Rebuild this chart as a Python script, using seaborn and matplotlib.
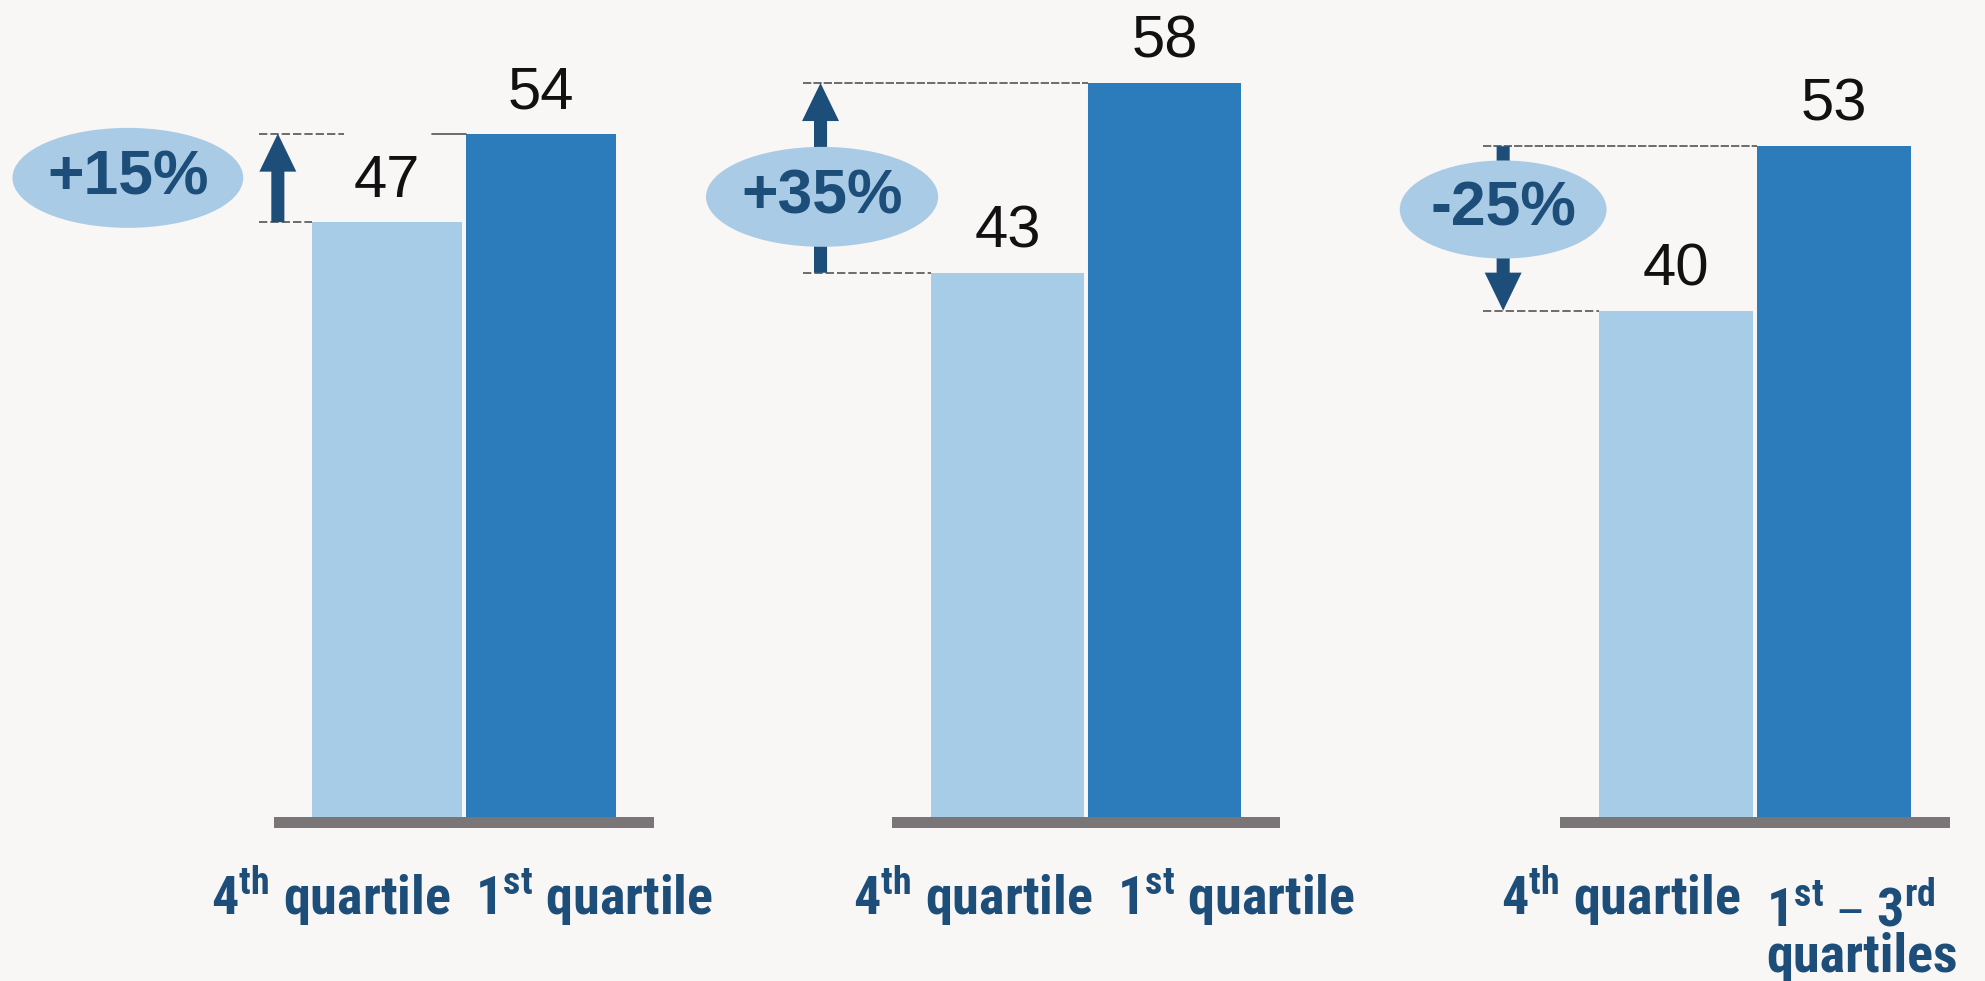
import matplotlib
matplotlib.use("Agg")
import matplotlib.pyplot as plt
import seaborn as sns
import pandas as pd
from matplotlib import font_manager
from matplotlib.font_manager import FontProperties
from matplotlib.patches import Ellipse, FancyArrowPatch, ArrowStyle

# ---- data -------------------------------------------------------------
quartile_4th = [47, 43, 40]
quartile_top = [54, 58, 53]
changes = ["+15%", "+35%", "-25%"]
label_4th = [r"4$^{\mathdefault{th}}$ quartile"] * 3
label_top = [r"1$^{\mathdefault{st}}$ quartile",
             r"1$^{\mathdefault{st}}$ quartile",
             "1$^{\\mathdefault{st}}$ \u2013 3$^{\\mathdefault{rd}}$\nquartiles"]

# ---- style ------------------------------------------------------------
LIGHT = "#a7cce8"
DARK = "#2c7cbc"
BASE_GRAY = "#7a7677"
NAVY = "#1d4e7a"
OVAL = "#a9cbe6"
RULE = "#555555"
BG = "#f9f6f6"

sns.set_theme(style="white")
plt.rcParams["font.family"] = ["Liberation Sans", "DejaVu Sans"]


def _is_bold(entry):
    w = entry.weight
    if isinstance(w, str):
        return w in ("bold", "heavy", "extra bold", "black", "demibold", "semibold")
    return w >= 600


def pick_condensed_bold():
    """Return a bold condensed sans face if one is installed."""
    fonts = font_manager.fontManager.ttflist
    for name in ("Liberation Sans Narrow", "Arial Narrow", "Roboto Condensed",
                 "Open Sans Condensed", "Noto Sans Condensed"):
        for f in fonts:
            if f.name == name and _is_bold(f) and f.style == "normal":
                return f
    for f in fonts:
        if (f.name in ("Liberation Sans", "Roboto", "Open Sans", "Noto Sans",
                       "Lato", "Inter")
                and f.stretch in ("condensed", "semi-condensed", "extra-condensed")
                and _is_bold(f) and f.style == "normal"):
            return f
    return None


cond = pick_condensed_bold()
if cond is not None:
    LABEL_PROP = FontProperties(fname=cond.fname, size=39)
    LABEL_LINESPACING = 0.87
else:
    LABEL_PROP = FontProperties(family="Liberation Sans", weight="bold", size=35)
    LABEL_LINESPACING = 1.32

# ---- layout (pixels) --------------------------------------------------
FIG_W, FIG_H, DPI = 1985, 981, 100
AX_LEFT = [274, 892, 1560]
AX_WIDTH = [380, 388, 390]
AX_BOTTOM = 152.7
AX_HEIGHT = FIG_H - AX_BOTTOM
BASE_DEPTH = 0.917
Y_TOP = 64.56
X_LIM = (-0.735, 1.735)
LABEL_SHIFT = [0.0, 0.13, 0.0]
LABEL_PAD = 62.4
LINE_GAP_PX = 57

# annotation geometry per panel (category units along x, value units along y)
ARROW_X = [-0.71, -1.19, -1.095]
RULE_X0 = [-0.83, -1.30, -1.22]
OVAL_XY = [(-1.685, 50.5), (-1.18, 49.0), (-1.095, 48.0)]
OVAL_WH = [(1.50, 7.9), (1.478, 7.9), (1.31, 7.75)]

fig = plt.figure(figsize=(FIG_W / DPI, FIG_H / DPI), dpi=DPI)
fig.patch.set_facecolor(BG)

arrow_style = ArrowStyle.Simple(head_length=27.4, head_width=26.6, tail_width=9.4)

for i in range(3):
    ax = fig.add_axes([AX_LEFT[i] / FIG_W, AX_BOTTOM / FIG_H,
                       AX_WIDTH[i] / FIG_W, AX_HEIGHT / FIG_H])
    ax.set_facecolor("none")
    df = pd.DataFrame({"group": ["low", "high"],
                       "value": [quartile_4th[i], quartile_top[i]]})
    sns.barplot(data=df, x="group", y="value", hue="group",
                palette=[LIGHT, DARK], width=0.975, saturation=1,
                linewidth=0, edgecolor="none", legend=False, ax=ax, zorder=2)
    ax.set_xlim(*X_LIM)
    ax.set_ylim(-BASE_DEPTH, Y_TOP)
    ax.axhspan(-BASE_DEPTH, 0, color=BASE_GRAY, lw=0, zorder=3)

    for spine in ax.spines.values():
        spine.set_visible(False)
    ax.set_yticks([])
    ax.set_xlabel("")
    ax.set_ylabel("")

    # value labels above the bars
    for cont in ax.containers:
        ax.bar_label(cont, fmt="%d", padding=9.6, fontsize=43,
                     color="#111111")

    # category labels flanking the gap between the two bars
    s = LABEL_SHIFT[i]
    ax.set_xticks([0.5 - 0.09 + s, 0.5 + 0.07 + s],
                  labels=[label_4th[i], label_top[i]])
    ax.tick_params(axis="x", length=0, pad=LABEL_PAD)
    for lbl, ha in zip(ax.get_xticklabels(), ["right", "left"]):
        lbl.set_fontproperties(LABEL_PROP)
        lbl.set_ha(ha)
        lbl.set_va("baseline")
        lbl.set_multialignment("left")
        lbl.set_color(NAVY)
        lbl.set_linespacing(LABEL_LINESPACING)
        # baseline alignment follows the last line; keep the first line level
        n_extra = lbl.get_text().count("\n")
        if n_extra:
            lbl.set_y(-n_extra * LINE_GAP_PX / AX_HEIGHT)

    lo, hi = quartile_4th[i], quartile_top[i]
    left_edge_low = -0.4875
    left_edge_high = 1 - 0.4875

    # reference rules at the two bar heights
    if i == 0:
        ax.plot([RULE_X0[i], -0.28], [hi, hi], ls=(0, (5, 1.8)), lw=1.2,
                color=RULE, clip_on=False, zorder=2)
        ax.plot([0.295, left_edge_high], [hi, hi], lw=1.2, color=RULE,
                clip_on=False, zorder=2)
    else:
        ax.plot([RULE_X0[i], left_edge_high], [hi, hi], ls=(0, (5, 1.2)),
                lw=1.2, color=RULE, clip_on=False, zorder=2)
    ax.plot([RULE_X0[i], left_edge_low], [lo, lo], ls=(0, (5, 1.8)), lw=1.2,
            color=RULE, clip_on=False, zorder=2)

    # change arrow: points from the comparison bar toward the quoted change
    start, end = (hi, lo) if changes[i].startswith("-") else (lo, hi)
    arrow = FancyArrowPatch((ARROW_X[i], start), (ARROW_X[i], end),
                            arrowstyle=arrow_style, mutation_scale=1,
                            shrinkA=0, shrinkB=0, color=NAVY, lw=0,
                            clip_on=False, zorder=4)
    ax.add_patch(arrow)

    # change badge
    (cx, cy), (w, h) = OVAL_XY[i], OVAL_WH[i]
    ax.add_patch(Ellipse((cx, cy), w, h, facecolor=OVAL, edgecolor="none",
                         clip_on=False, zorder=5))
    ax.text(cx, cy, changes[i], ha="center", va="center", fontsize=45,
            fontweight="bold", color=NAVY, zorder=6, clip_on=False)

fig.savefig("out.png", dpi=DPI, facecolor=fig.get_facecolor())
